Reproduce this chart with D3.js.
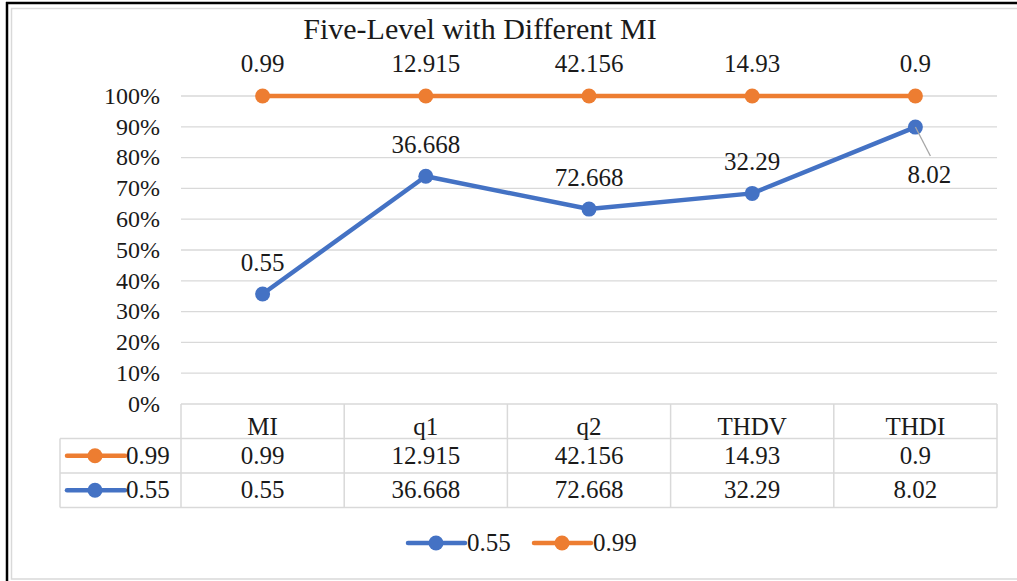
<!DOCTYPE html>
<html>
<head>
<meta charset="utf-8">
<script src="https://cdn.jsdelivr.net/npm/d3@7"></script>
<style>
  html, body { margin: 0; padding: 0; background: #fff; }
  svg { display: block; }
  text { font-family: "Liberation Serif", "Times New Roman", serif; fill: #1a1a1a; }
</style>
</head>
<body>
<svg id="chart" width="1017" height="581"></svg>
<script>
// Categories along the x axis
const categories = ["MI", "q1", "q2", "THDV", "THDI"];
// Series values (100% stacked line: each point is its share of the column total)
const series055 = [0.55, 36.668, 72.668, 32.29, 8.02];
const series099 = [0.99, 12.915, 42.156, 14.93, 0.9];
const seriesNames = ["0.55", "0.99"];
const yTicks = [0, 0.1, 0.2, 0.3, 0.4, 0.5, 0.6, 0.7, 0.8, 0.9, 1.0];

const colors = { "0.55": "#4472C4", "0.99": "#ED7D31" };
const gridColor = "#d9d9d9";
const fs = 25;

const svg = d3.select("#chart");

// Sheet frame around the chart object
svg.append("rect").attr("x", 11.5).attr("y", 8.5).attr("width", 1020).attr("height", 570.5)
  .attr("fill", "#fff").attr("stroke", "#d9d9d9").attr("stroke-width", 1.5);
svg.append("line").attr("x1", 7).attr("x2", 7).attr("y1", 2).attr("y2", 581)
  .attr("stroke", "#000").attr("stroke-width", 2.5);
svg.append("line").attr("x1", 6).attr("x2", 1017).attr("y1", 3).attr("y2", 3)
  .attr("stroke", "#000").attr("stroke-width", 2.5);

// Rows for stacking
const rows = categories.map((c, i) => ({ cat: c, "0.55": series055[i], "0.99": series099[i] }));
const stacked = d3.stack().keys(seriesNames).offset(d3.stackOffsetExpand)(rows);

const plotLeft = 181, plotRight = 997, plotTop = 96, plotBottom = 404;
const x = d3.scaleBand().domain(categories).range([plotLeft, plotRight]);
const y = d3.scaleLinear().domain([0, 1]).range([plotBottom, plotTop]);
const cx = c => x(c) + x.bandwidth() / 2;

// Title
svg.append("text").attr("x", 480).attr("y", 39).attr("text-anchor", "middle")
  .attr("font-size", 30).text("Five-Level with Different MI");

// Gridlines
svg.append("g").selectAll("line").data(yTicks.filter(t => t > 0)).join("line")
  .attr("x1", plotLeft).attr("x2", plotRight)
  .attr("y1", d => y(d)).attr("y2", d => y(d))
  .attr("stroke", gridColor).attr("stroke-width", 1.3);

// Y axis labels
const yAxis = d3.axisLeft(y).tickValues(yTicks).tickFormat(d3.format(".0%")).tickSize(0).tickPadding(0);
const yg = svg.append("g").attr("transform", `translate(160,0)`).call(yAxis);
yg.attr("font-family", null).attr("font-size", null);
yg.select(".domain").remove();
yg.selectAll("text").attr("font-size", 24).attr("dy", "0.3em");

// Lines and markers
const values = { "0.55": series055, "0.99": series099 };
stacked.forEach(layer => {
  const name = layer.key;
  const pts = layer.map((d, i) => ({ cat: categories[i], v: d[1], raw: values[name][i] }));
  const line = d3.line().x(d => cx(d.cat)).y(d => y(d.v));
  svg.append("path").datum(pts).attr("d", line).attr("fill", "none")
    .attr("stroke", colors[name]).attr("stroke-width", 4.5).attr("stroke-linejoin", "round");
  svg.append("g").selectAll("circle").data(pts).join("circle")
    .attr("cx", d => cx(d.cat)).attr("cy", d => y(d.v)).attr("r", 7.5)
    .attr("fill", colors[name]);
  layer.points = pts;
});

// Data labels
const orangePts = stacked[1].points;
svg.append("g").selectAll("text").data(orangePts).join("text")
  .attr("x", d => cx(d.cat)).attr("y", d => y(d.v) - 24).attr("text-anchor", "middle")
  .attr("font-size", fs).text(d => d.raw);

const bluePts = stacked[0].points;
bluePts.forEach((d, i) => {
  if (i === bluePts.length - 1) {
    // Label moved below-right with a leader line
    svg.append("line").attr("x1", cx(d.cat)).attr("y1", y(d.v))
      .attr("x2", cx(d.cat) + 15).attr("y2", y(d.v) + 29)
      .attr("stroke", "#a6a6a6").attr("stroke-width", 1.3);
    svg.append("text").attr("x", cx(d.cat) + 14).attr("y", y(d.v) + 56)
      .attr("text-anchor", "middle").attr("font-size", fs).text(d.raw);
  } else {
    svg.append("text").attr("x", cx(d.cat)).attr("y", y(d.v) - 23)
      .attr("text-anchor", "middle").attr("font-size", fs).text(d.raw);
  }
});

// Data table
const tableLeft = 60, rowH = 34.5;
const tableTop = plotBottom;
const tableRows = [
  { name: "0.99", vals: series099 },
  { name: "0.55", vals: series055 }
];
const tg = svg.append("g");
const hLines = [
  { y: tableTop, x1: plotLeft, x2: plotRight },
  { y: tableTop + rowH, x1: tableLeft, x2: plotRight },
  { y: tableTop + 2 * rowH, x1: tableLeft, x2: plotRight },
  { y: tableTop + 3 * rowH, x1: tableLeft, x2: plotRight }
];
tg.selectAll("line.h").data(hLines).join("line").attr("class", "h")
  .attr("x1", d => d.x1).attr("x2", d => d.x2).attr("y1", d => d.y).attr("y2", d => d.y)
  .attr("stroke", gridColor).attr("stroke-width", 1.5);
const vX = categories.map(c => x(c)).concat([plotRight]);
tg.selectAll("line.v").data(vX).join("line").attr("class", "v")
  .attr("x1", d => d).attr("x2", d => d).attr("y1", tableTop).attr("y2", tableTop + 3 * rowH)
  .attr("stroke", gridColor).attr("stroke-width", 1.5);
tg.append("line").attr("x1", tableLeft).attr("x2", tableLeft)
  .attr("y1", tableTop + rowH).attr("y2", tableTop + 3 * rowH)
  .attr("stroke", gridColor).attr("stroke-width", 1.5);

tg.selectAll("text.hdr").data(categories).join("text").attr("class", "hdr")
  .attr("x", d => cx(d)).attr("y", tableTop + 31).attr("text-anchor", "middle")
  .attr("font-size", fs).text(d => d);

tableRows.forEach((r, ri) => {
  const ry = tableTop + rowH * (ri + 1);
  const mid = ry + rowH / 2;
  tg.append("line").attr("x1", 67).attr("x2", 125).attr("y1", mid).attr("y2", mid)
    .attr("stroke", colors[r.name]).attr("stroke-width", 4.5).attr("stroke-linecap", "round");
  tg.append("circle").attr("cx", 95).attr("cy", mid).attr("r", 7.5).attr("fill", colors[r.name]);
  tg.append("text").attr("x", 126).attr("y", mid + 8).attr("font-size", fs).text(r.name);
  tg.selectAll(null).data(r.vals).join("text")
    .attr("x", (d, i) => cx(categories[i])).attr("y", mid + 8).attr("text-anchor", "middle")
    .attr("font-size", fs).text(d => d);
});

// Legend
const legend = svg.append("g");
const legendItems = [{ name: "0.55", x: 408 }, { name: "0.99", x: 534 }];
legendItems.forEach(it => {
  const ly = 543;
  legend.append("line").attr("x1", it.x).attr("x2", it.x + 57).attr("y1", ly).attr("y2", ly)
    .attr("stroke", colors[it.name]).attr("stroke-width", 4.5).attr("stroke-linecap", "round");
  legend.append("circle").attr("cx", it.x + 28).attr("cy", ly).attr("r", 7.5).attr("fill", colors[it.name]);
  legend.append("text").attr("x", it.x + 59).attr("y", ly + 8).attr("font-size", fs).text(it.name);
});
</script>
</body>
</html>
